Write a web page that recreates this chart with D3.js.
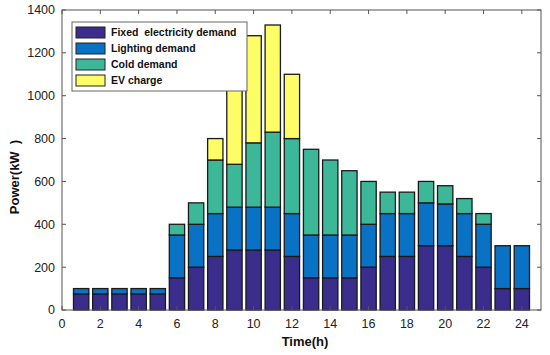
<!DOCTYPE html>
<html>
<head>
<meta charset="utf-8">
<script src="https://cdn.jsdelivr.net/npm/d3@7"></script>
<style>
  body { margin: 0; background: #fff; }
  svg { font-family: "Liberation Sans", Arial, sans-serif; }
</style>
</head>
<body>
<div id="chart"></div>
<script>
// hours 1..24
var hours = d3.range(1, 25);
var seriesNames = ["Fixed  electricity demand", "Lighting demand", "Cold demand", "EV charge"];
var seriesColors = ["#3a2d8b", "#0a72c4", "#3cb898", "#fdfd66"];

// values in kW (each series' own part of the stack)
var fixedDemand    = [75, 75, 75, 75, 75, 150, 200, 250, 280, 280, 280, 250, 150, 150, 150, 200, 250, 250, 300, 300, 250, 200, 100, 100];
var lightingDemand = [25, 25, 25, 25, 25, 200, 200, 200, 200, 200, 200, 200, 200, 200, 200, 200, 200, 200, 200, 195, 200, 200, 200, 200];
var coldDemand     = [0, 0, 0, 0, 0, 50, 100, 250, 200, 300, 350, 350, 400, 350, 300, 200, 100, 100, 100, 85, 70, 50, 0, 0];
var evCharge       = [0, 0, 0, 0, 0, 0, 0, 100, 400, 500, 500, 300, 0, 0, 0, 0, 0, 0, 0, 0, 0, 0, 0, 0];

var xTicks = d3.range(0, 25, 2);
var yTicks = d3.range(0, 1401, 200);

var W = 550, H = 355;
var margin = {top: 10, right: 9, bottom: 45, left: 62};

var svg = d3.select("#chart").append("svg")
    .attr("width", W)
    .attr("height", H);

var x = d3.scaleLinear().domain([0, 25]).range([margin.left, W - margin.right]);
var y = d3.scaleLinear().domain([0, 1400]).range([H - margin.bottom, margin.top]);

var rows = hours.map(function(h, i){
    return {hour: h, s0: fixedDemand[i], s1: lightingDemand[i], s2: coldDemand[i], s3: evCharge[i]};
});
var stack = d3.stack().keys(["s0", "s1", "s2", "s3"])(rows);

var barW = x(0.8) - x(0);

svg.append("g").selectAll("g")
  .data(stack)
  .join("g")
    .attr("fill", function(d, i){ return seriesColors[i]; })
  .selectAll("rect")
  .data(function(d){ return d.filter(function(p){ return p[1] > p[0]; }); })
  .join("rect")
    .attr("x", function(d){ return x(d.data.hour) - barW / 2; })
    .attr("y", function(d){ return y(d[1]); })
    .attr("width", barW)
    .attr("height", function(d){ return y(d[0]) - y(d[1]); })
    .attr("stroke", "#1a1a1a")
    .attr("stroke-width", 1.3);

// axes box
var x0 = x(0), x1 = x(25), yb = y(0), yt = y(1400);
svg.append("rect")
    .attr("x", x0).attr("y", yt)
    .attr("width", x1 - x0).attr("height", yb - yt)
    .attr("fill", "none").attr("stroke", "#555").attr("stroke-width", 1);

var tickLen = 4;
var ax = svg.append("g").attr("stroke", "#555").attr("stroke-width", 1);
xTicks.forEach(function(t){
    ax.append("line").attr("x1", x(t)).attr("x2", x(t)).attr("y1", yb).attr("y2", yb - tickLen);
    ax.append("line").attr("x1", x(t)).attr("x2", x(t)).attr("y1", yt).attr("y2", yt + tickLen);
});
yTicks.forEach(function(t){
    ax.append("line").attr("x1", x0).attr("x2", x0 + tickLen).attr("y1", y(t)).attr("y2", y(t));
    ax.append("line").attr("x1", x1).attr("x2", x1 - tickLen).attr("y1", y(t)).attr("y2", y(t));
});

svg.append("g").selectAll("text")
  .data(xTicks)
  .join("text")
    .attr("x", function(d){ return x(d); })
    .attr("y", yb + 18)
    .attr("text-anchor", "middle")
    .style("font-size", "12.5px")
    .style("fill", "#222")
    .text(function(d){ return d; });

svg.append("g").selectAll("text")
  .data(yTicks)
  .join("text")
    .attr("x", x0 - 7)
    .attr("y", function(d){ return y(d); })
    .attr("dy", "0.35em")
    .attr("text-anchor", "end")
    .style("font-size", "12.5px")
    .style("fill", "#222")
    .text(function(d){ return d; });

svg.append("text")
    .attr("x", 305).attr("y", 346)
    .attr("text-anchor", "middle")
    .style("font-size", "13px").style("font-weight", "bold").style("fill", "#111")
    .text("Time(h)");

svg.append("text")
    .attr("transform", "translate(19,177) rotate(-90)")
    .attr("text-anchor", "middle")
    .style("font-size", "13px").style("font-weight", "bold").style("fill", "#111")
    .style("white-space", "pre")
    .text("Power(kW  )");

// legend
var lg = svg.append("g");
lg.append("rect")
    .attr("x", 72).attr("y", 22).attr("width", 175).attr("height", 69)
    .attr("fill", "#fff").attr("stroke", "#666").attr("stroke-width", 1);
seriesNames.forEach(function(name, i){
    var yy = 27 + i * 16;
    lg.append("rect")
        .attr("x", 76).attr("y", yy).attr("width", 29).attr("height", 11)
        .attr("fill", seriesColors[i]).attr("stroke", "#222").attr("stroke-width", 1);
    lg.append("text")
        .attr("x", 111).attr("y", yy + 5.5).attr("dy", "0.35em")
        .style("font-size", "10.5px").style("font-weight", "bold").style("fill", "#111")
        .style("white-space", "pre")
        .text(name);
});
</script>
</body>
</html>
